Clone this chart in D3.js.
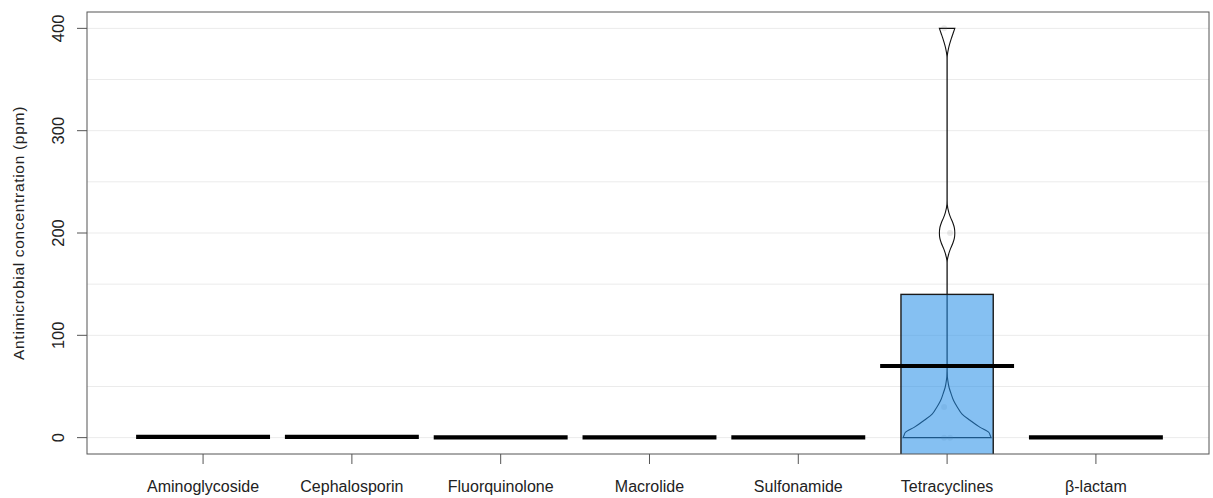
<!DOCTYPE html>
<html lang="en">
<head>
<meta charset="UTF-8">
<title>Antimicrobial concentration</title>
<script src="https://d3js.org/d3.v7.min.js" charset="utf-8"></script>
<style>
  body { margin: 0; background: #fff; }
  text { font-family: "Liberation Sans", Arial, sans-serif; fill: #222; }
</style>
</head>
<body>
<script>
    // chart data
    var categories = ["Aminoglycoside", "Cephalosporin", "Fluorquinolone", "Macrolide",
                      "Sulfonamide", "Tetracyclines", "\u03b2-lactam"];
    var means = [0.8, 0.8, 0.2, 0.2, 0.2, 70, 0.2];
    // inference band for Tetracyclines (lower bound falls below the plot)
    var infLow = [null, null, null, null, null, -20, null];
    var infHigh = [null, null, null, null, null, 140, null];
    var yTicks = [0, 100, 200, 300, 400];
    var gridTicks = [0, 50, 100, 150, 200, 250, 300, 350, 400];

    // Tetracyclines density (relative width) at each concentration level
    var densLevels = [0, 2, 5, 10, 17, 23, 30, 36, 43, 49, 56, 60, 70, 170, 173, 180, 185, 190, 195,
                      200, 205, 210, 215, 220, 228, 232, 370, 373, 380, 385, 390, 395, 400];
    var densValues = [1.0, 0.98, 0.95, 0.75, 0.52, 0.34, 0.23, 0.15, 0.09, 0.045, 0.016, 0.006, 0.002,
                      0.002, 0.004, 0.04, 0.08, 0.13, 0.165, 0.175, 0.165, 0.13, 0.08, 0.04, 0.004,
                      0.002, 0.002, 0.004, 0.03, 0.06, 0.095, 0.135, 0.175];
    // raw Tetracyclines observations (faint points)
    var tetraPoints = [0, 0, 30, 200, 400];

    var W = 1213, H = 498;
    var margin = {top: 12, right: 4, bottom: 44, left: 87};

    var svg = d3.select("body").append("svg")
        .attr("width", W)
        .attr("height", H);

    var x = d3.scaleLinear().domain([0.22, 7.76]).range([margin.left, W - margin.right]);
    var y = d3.scaleLinear().domain([-16, 416]).range([H - margin.bottom, margin.top]);
    var unit = x(2) - x(1);
    var densW = d3.scaleLinear().domain([0, 1]).range([0, 0.296 * unit]);

    svg.append("defs").append("clipPath").attr("id", "clip")
        .append("rect")
        .attr("x", x.range()[0]).attr("y", y.range()[1])
        .attr("width", x.range()[1] - x.range()[0])
        .attr("height", y.range()[0] - y.range()[1]);

    // grid lines
    svg.append("g").selectAll("line").data(gridTicks).enter()
        .append("line")
        .attr("x1", x.range()[0]).attr("x2", x.range()[1])
        .attr("y1", function(d) { return y(d); })
        .attr("y2", function(d) { return y(d); })
        .attr("stroke", "#ebebeb")
        .attr("stroke-width", 1);

    var plot = svg.append("g").attr("clip-path", "url(#clip)");

    // violin for Tetracyclines
    var tIdx = categories.indexOf("Tetracyclines");
    var cx = x(tIdx + 1);
    var dens = densLevels.map(function(v, i) { return [v, densValues[i]]; });
    var area = d3.area()
        .curve(d3.curveMonotoneY)
        .y(function(d) { return y(d[0]); })
        .x0(function(d) { return cx - densW(d[1]); })
        .x1(function(d) { return cx + densW(d[1]); });
    plot.append("path")
        .datum(dens)
        .attr("d", function(d) { return area(d) + "Z"; })
        .attr("fill", "white")
        .attr("fill-opacity", 0)
        .attr("stroke", "#111")
        .attr("stroke-width", 1.1);

    // faint points
    plot.selectAll(".pt").data(tetraPoints).enter()
        .append("circle")
        .attr("cx", function(d, i) { return x(tIdx + 1 + ((i % 2) ? 0.02 : -0.02)); })
        .attr("cy", function(d) { return y(d); })
        .attr("r", 3)
        .attr("fill", "#777")
        .attr("opacity", 0.15);

    // inference bands
    plot.selectAll(".inf").data(categories).enter()
        .filter(function(d, i) { return infHigh[i] !== null; })
        .append("rect")
        .attr("x", function(d) { return x(categories.indexOf(d) + 1) - 0.31 * unit; })
        .attr("width", 0.62 * unit)
        .attr("y", function(d) { return y(infHigh[categories.indexOf(d)]); })
        .attr("height", function(d) {
            var i = categories.indexOf(d);
            return y(infLow[i]) - y(infHigh[i]);
        })
        .attr("fill", "rgb(38,142,232)")
        .attr("fill-opacity", 0.56)
        .attr("stroke", "#1a1a1a")
        .attr("stroke-width", 1.4);

    // mean lines
    plot.selectAll(".avg").data(means).enter()
        .append("line")
        .attr("x1", function(d, i) { return x(i + 1) - 0.45 * unit; })
        .attr("x2", function(d, i) { return x(i + 1) + 0.45 * unit; })
        .attr("y1", function(d) { return y(d); })
        .attr("y2", function(d) { return y(d); })
        .attr("stroke", "black")
        .attr("stroke-width", 4.2);

    // plot box
    svg.append("rect")
        .attr("x", x.range()[0]).attr("y", y.range()[1])
        .attr("width", x.range()[1] - x.range()[0])
        .attr("height", y.range()[0] - y.range()[1])
        .attr("fill", "none")
        .attr("stroke", "#555")
        .attr("stroke-width", 1);

    // y axis
    var yAxis = svg.append("g");
    yAxis.selectAll("line").data(yTicks).enter()
        .append("line")
        .attr("x1", x.range()[0] - 10).attr("x2", x.range()[0])
        .attr("y1", function(d) { return y(d); })
        .attr("y2", function(d) { return y(d); })
        .attr("stroke", "#555");
    yAxis.selectAll("text").data(yTicks).enter()
        .append("text")
        .attr("transform", function(d) { return "translate(64," + y(d) + ") rotate(-90)"; })
        .attr("text-anchor", "middle")
        .style("font-size", "16.5px")
        .text(function(d) { return d; });

    // y axis title
    svg.append("text")
        .attr("transform", "translate(24," + ((y.range()[0] + y.range()[1]) / 2) + ") rotate(-90)")
        .attr("text-anchor", "middle")
        .style("font-size", "15.5px")
        .style("letter-spacing", "0.7px")
        .text("Antimicrobial  concentration (ppm)");

    // x axis
    var xAxis = svg.append("g");
    xAxis.selectAll("line").data(categories).enter()
        .append("line")
        .attr("x1", function(d, i) { return x(i + 1); })
        .attr("x2", function(d, i) { return x(i + 1); })
        .attr("y1", y.range()[0]).attr("y2", y.range()[0] + 10)
        .attr("stroke", "#555");
    xAxis.selectAll("text").data(categories).enter()
        .append("text")
        .attr("x", function(d, i) { return x(i + 1); })
        .attr("y", 492)
        .attr("text-anchor", "middle")
        .style("font-size", "16px")
        .text(function(d) { return d; });
</script>
</body>
</html>
